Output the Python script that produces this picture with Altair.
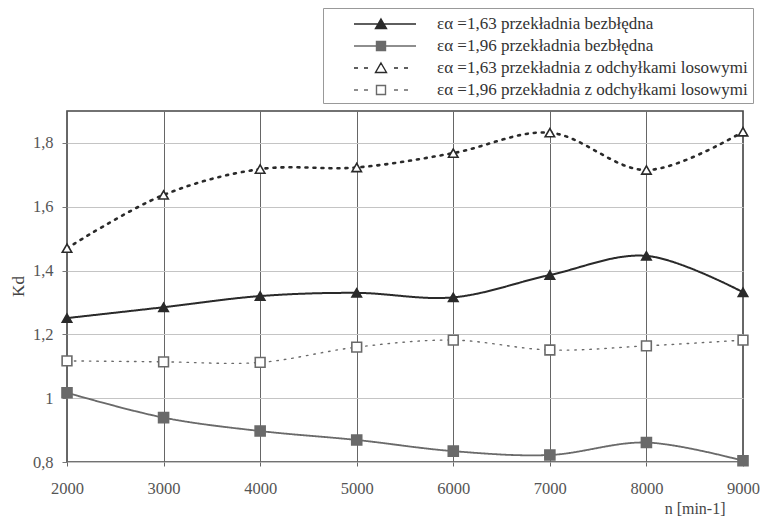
import altair as alt
import pandas as pd

# ---- data ----
n_values = [2000, 3000, 4000, 5000, 6000, 7000, 8000, 9000]
kd_163_bezbledna = [1.251, 1.285, 1.320, 1.330, 1.316, 1.386, 1.446, 1.332]
kd_196_bezbledna = [1.017, 0.939, 0.897, 0.869, 0.834, 0.822, 0.861, 0.804]
kd_163_losowe = [1.470, 1.637, 1.718, 1.723, 1.768, 1.832, 1.715, 1.835]
kd_196_losowe = [1.117, 1.114, 1.112, 1.160, 1.182, 1.151, 1.164, 1.182]

series_labels = [
    "εα =1,63 przekładnia bezbłędna",
    "εα =1,96 przekładnia bezbłędna",
    "εα =1,63 przekładnia z odchyłkami losowymi",
    "εα =1,96 przekładnia z odchyłkami losowymi",
]
x_ticks = [2000, 3000, 4000, 5000, 6000, 7000, 8000, 9000]
y_ticks = [0.8, 1.0, 1.2, 1.4, 1.6, 1.8]

all_series = [kd_163_bezbledna, kd_196_bezbledna, kd_163_losowe, kd_196_losowe]
rows = []
for lab, vals in zip(series_labels, all_series):
    for n, v in zip(n_values, vals):
        rows.append({"n": n, "kd": v, "series": lab})
df = pd.DataFrame(rows)

FONT = "Liberation Serif"
BLACK = "#2a2a2a"
GRAY = "#6a6a6a"
FS = 16.5

styles = [
    dict(color=BLACK, dash=[1, 0], width=2.0, shape="triangle-up", fill=BLACK, size=90),
    dict(color=GRAY, dash=[1, 0], width=1.8, shape="square", fill=GRAY, size=100),
    dict(color=BLACK, dash=[2, 6], width=2.6, shape="triangle-up", fill="white", size=90),
    dict(color=GRAY, dash=[1.5, 6], width=1.4, shape="square", fill="white", size=95),
]

x_enc = alt.X(
    "n:Q",
    scale=alt.Scale(domain=[2000, 9000], nice=False, zero=False),
    axis=alt.Axis(
        values=x_ticks, format="d", grid=True, gridColor="#666", gridWidth=1,
        domain=False, ticks=True, tickSize=4, tickColor="#666", labelPadding=14,
        labelFlush=False, labelFont=FONT, labelFontSize=FS, labelColor="#555",
        title="n [min-1]", titleX=658, titleY=46, titleAlign="right",
        titleBaseline="middle", titleFont=FONT, titleFontSize=16,
        titleFontWeight="normal", titleColor="#444",
    ),
)
y_enc = alt.Y(
    "kd:Q",
    scale=alt.Scale(domain=[0.8, 1.9], nice=False, zero=False),
    axis=alt.Axis(
        values=y_ticks,
        labelExpr="replace(format(datum.value, '.1~f'), '.', ',')",
        grid=True, gridColor="#c4c4c4", gridWidth=1, domain=False,
        ticks=True, tickSize=5, tickColor="#777", labelPadding=9,
        labelFont=FONT, labelFontSize=FS, labelColor="#555",
        title="Kd", titleAngle=270, titleX=-49, titleY=175,
        titleAlign="center", titleBaseline="middle", titleFont=FONT,
        titleFontSize=17, titleFontWeight="normal", titleColor="#444",
    ),
)

base = alt.Chart(df)
layers = []
for lab, st in zip(series_labels, styles):
    sub = base.transform_filter(alt.datum.series == lab)
    layers.append(
        sub.mark_line(
            interpolate="catmull-rom", color=st["color"], strokeDash=st["dash"],
            strokeWidth=st["width"], strokeCap="round",
        ).encode(x=x_enc, y=y_enc)
    )
for lab, st in zip(series_labels, styles):
    sub = base.transform_filter(alt.datum.series == lab)
    layers.append(
        sub.mark_point(
            shape=st["shape"], filled=True, fill=st["fill"], stroke=st["color"],
            strokeWidth=1.6, size=st["size"], opacity=1,
        ).encode(x=x_enc, y=y_enc)
    )

# legend symbols: line + marker drawn as one path
solid = "M1.5,0H7.7"
dashed = "M1.5,0H1.9M2.5,0H2.9M5.5,0H5.9M6.5,0H6.9"
tri = "M4.2,-0.5L4.75,0.45L3.65,0.45Z"
sq = "M3.75,-0.45H4.65V0.45H3.75Z"
legend_paths = [solid + tri, solid + sq, dashed + tri, dashed + sq]

leg = dict(
    title=None, orient="none", legendX=256, legendY=-103, padding=5,
    symbolSize=400, symbolStrokeWidth=1.4, labelOffset=87, rowPadding=3,
    labelFont=FONT, labelFontSize=17, labelColor="#333", labelLimit=500,
    strokeColor="#999", fillColor="white",
)
legend_layer = alt.Chart(df).transform_filter("false").mark_point(opacity=1).encode(
    x=x_enc,
    y=y_enc,
    shape=alt.Shape("series:N", scale=alt.Scale(domain=series_labels, range=legend_paths),
                    legend=alt.Legend(**leg)),
    fill=alt.Fill("series:N", scale=alt.Scale(domain=series_labels,
                                               range=[s["fill"] for s in styles]),
                  legend=alt.Legend(**leg)),
    stroke=alt.Stroke("series:N", scale=alt.Scale(domain=series_labels,
                                                   range=[s["color"] for s in styles]),
                      legend=alt.Legend(**leg)),
)
layers.append(legend_layer)

chart = alt.layer(*layers).properties(
    width=676, height=351,
    autosize=alt.AutoSizeParams(type="none"),
    padding={"left": 59, "top": 103, "right": 17, "bottom": 56},
).configure_view(stroke="#444", strokeWidth=1.6)

chart.save("out.html", embed_options={"renderer": "svg", "actions": False})
